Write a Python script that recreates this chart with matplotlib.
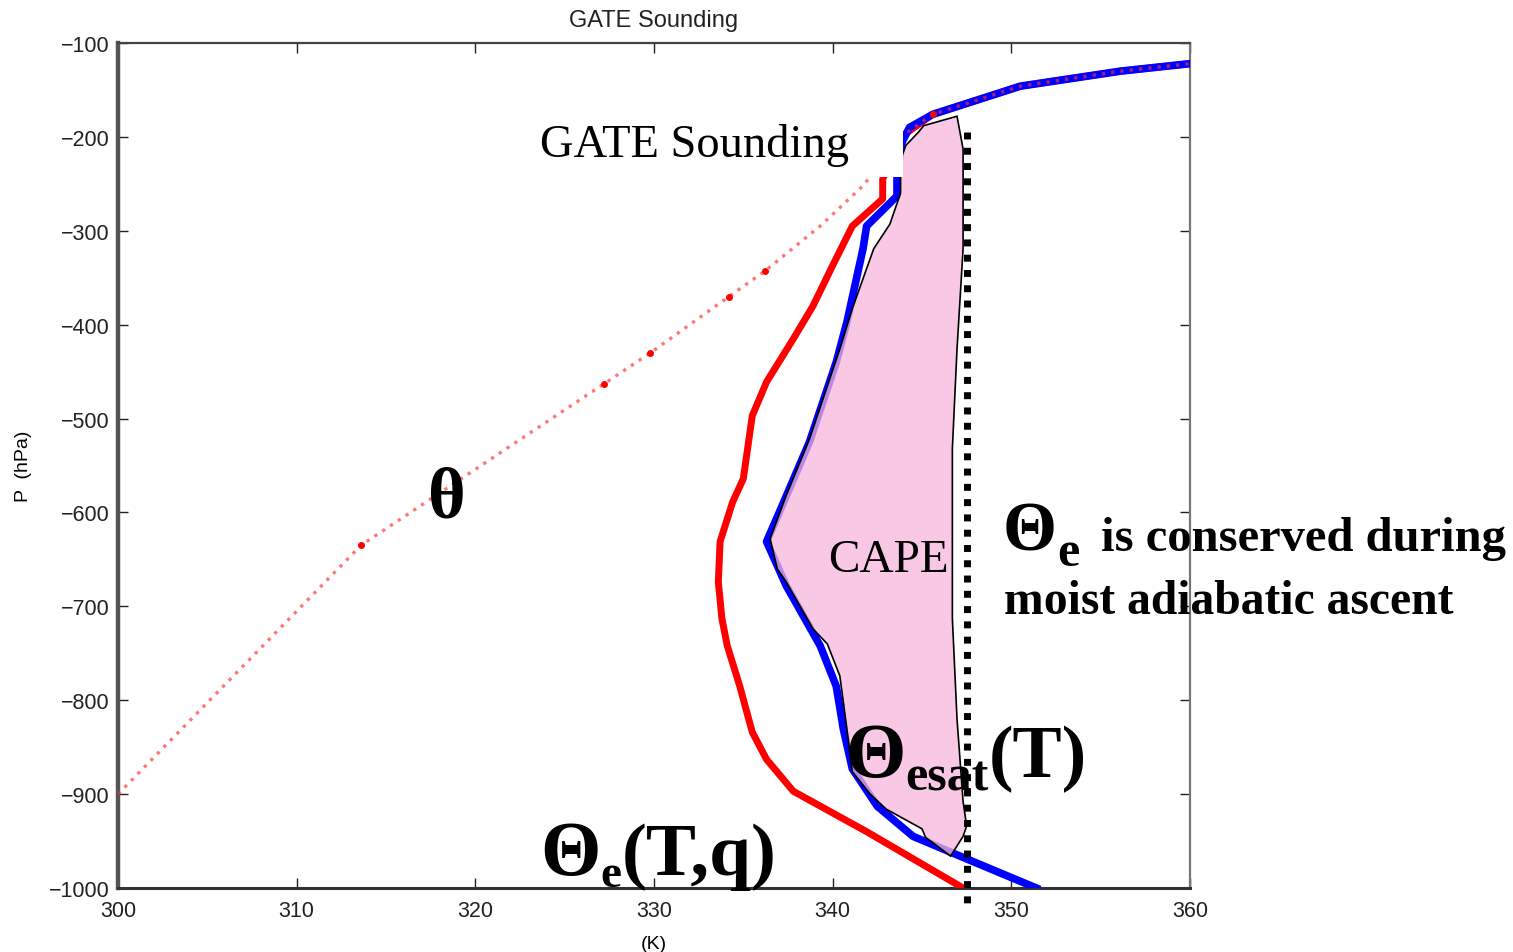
import matplotlib
matplotlib.use("Agg")
import matplotlib.pyplot as plt
from matplotlib.patches import Polygon, Rectangle
import numpy as np

# --- GATE sounding profiles (K vs. pressure plotted as negative hPa) ---
theta_K = [300.0, 313.6, 327.2, 329.8, 334.2, 336.2, 339.3, 341.7, 343.9,
           345.6, 350.5, 356.1, 360.0, 363.0]
theta_p = [-900, -635, -463, -430, -370, -343, -295, -252, -199,
           -176, -146, -130, -122, -117]
theta_marked = [1, 2, 3, 4, 5, 9]

thetae_K = [347.3, 341.9, 337.8, 336.3, 335.5, 334.8, 334.1, 333.8, 333.6,
            333.7, 334.4, 335.0, 335.5, 336.3, 337.8, 338.9, 340.0, 341.1,
            342.8, 342.8, 343.9, 345.6, 350.5, 356.1, 360.0, 363.0]
thetae_p = [-1000, -940, -897, -863, -834, -785, -742, -713, -674,
            -631, -589, -564, -497, -461, -415, -380, -337, -295,
            -266, -245, -199, -176, -146, -130, -122, -117]

thetaes_K = [351.4, 347.5, 344.5, 342.5, 341.1, 340.6, 340.2, 339.3, 337.4,
             336.3, 337.1, 338.7, 340.2, 340.8, 341.7, 341.9, 343.6, 343.6,
             343.9, 344.3, 345.6, 350.5, 356.1, 360.0, 363.0]
thetaes_p = [-1000, -969, -945, -913, -873, -831, -785, -742, -678,
             -631, -596, -525, -440, -397, -319, -295, -263, -237,
             -205, -190, -176, -146, -130, -122, -117]

# CAPE region: parcel side (right) then environment side (left)
cape_K = [346.96, 347.3, 347.3, 346.96, 346.7, 346.7, 346.7, 346.96, 347.3,
          347.5, 347.3, 346.6, 345.2, 345.0, 343.0, 342.1, 341.1, 340.8,
          340.4, 339.7, 338.9, 337.4, 336.9, 336.5, 337.4, 338.7, 340.4,
          341.1, 342.3, 343.2, 343.8, 343.8, 344.1, 344.8, 345.1]
cape_p = [-178, -213, -319, -426, -532, -639, -713, -820, -908,
          -934, -945, -966, -946, -937, -916, -900, -876, -831,
          -774, -740, -724, -674, -660, -628, -582, -522, -426,
          -383, -319, -293, -260, -224, -209, -195, -188]

parcel_thetae = 347.5
parcel_p = [-195, -1018]

W, H = 1513, 953
fig = plt.figure(figsize=(W / 100, H / 100), dpi=100)
ax = fig.add_axes([118 / W, 1 - 889 / H, (1190 - 118) / W, (889 - 44) / H])
ax.set_xlim(300, 360)
ax.set_ylim(-1000, -100)

ax.plot(thetae_K, thetae_p, color="#ff0000", lw=5, solid_joinstyle="round", zorder=3)
ax.plot(thetaes_K, thetaes_p, color="#0000ff", lw=5.5, solid_joinstyle="round", zorder=4)
ax.add_patch(Polygon(np.column_stack([cape_K, cape_p]), closed=True,
                     facecolor="#f8b6db", alpha=0.75, edgecolor="none", zorder=5))
ax.add_patch(Polygon(np.column_stack([cape_K, cape_p]), closed=True,
                     facecolor="none", edgecolor="black", lw=1.2, zorder=5.5))
ax.plot(theta_K, theta_p, color="#ff3030", lw=2.4, linestyle=(0, (1, 1.8)),
        alpha=0.65, zorder=6)
ax.plot(np.array(theta_K)[theta_marked], np.array(theta_p)[theta_marked], "o",
        color="#ff0000", ms=4, zorder=6)
ax.plot([parcel_thetae, parcel_thetae], parcel_p, color="black", lw=5,
        linestyle=(0, (1, 1.2)), dash_capstyle="butt", clip_on=False, zorder=7)

# axes styling
ax.set_xticks(np.arange(300, 361, 10))
ax.set_yticks(np.arange(-1000, -99, 100))
ax.tick_params(direction="in", length=7, width=1, top=True, right=True,
               labelsize=15.5, colors="#222222", pad=6)
ax.tick_params(axis="x", pad=9)
for lab in ax.get_xticklabels() + ax.get_yticklabels():
    lab.set_family("Liberation Sans")
ax.spines["left"].set_linewidth(3.2)
ax.spines["left"].set_color("#555555")
ax.spines["bottom"].set_linewidth(2.2)
ax.spines["bottom"].set_color("#333333")
ax.spines["top"].set_linewidth(1.6)
ax.spines["top"].set_color("#444444")
ax.spines["right"].set_linewidth(1.6)
ax.spines["right"].set_color("#777777")
ax.set_title("GATE Sounding", fontsize=17, family="Liberation Sans", pad=12,
             color="#222222")
ax.set_xlabel("(K)", fontsize=14, family="Liberation Sans", labelpad=10)
ax.set_ylabel("P  (hPa)", fontsize=14, family="Liberation Sans", labelpad=12)

# white label box over the upper part of the profiles
fig.add_artist(Rectangle((528 / W, 1 - 178 / H), (903 - 528) / W, (178 - 114) / H,
                         transform=fig.transFigure, facecolor="white",
                         edgecolor="none", zorder=2))
fig.text(540 / W, 1 - 157 / H, "GATE Sounding", fontsize=33.5,
         family="Liberation Serif", va="baseline", zorder=3)
fig.text(828 / W, 1 - 572 / H, "CAPE", fontsize=34,
         family="Liberation Serif", va="baseline", zorder=3)

renderer = fig.canvas.get_renderer()


def run(x_px, y_px, pieces):
    x = x_px
    for s, size, dy in pieces:
        t = fig.text(x / W, 1 - (y_px + dy) / H, s, fontsize=size,
                     fontweight="bold", family="Liberation Serif",
                     va="baseline", ha="left", zorder=8)
        x += t.get_window_extent(renderer).width


run(428, 517, [("\u03b8", 52, 0)])
run(540, 875, [("\u0398", 56, 0), ("e", 34, 12), ("(T,q)", 54, 0)])
run(845, 777, [("\u0398", 56, 0), ("esat", 36, 14), ("(T)", 53, 0)])
run(1003, 551, [("\u0398", 50, 0), ("e", 36, 15)])
fig.text(1101 / W, 1 - 551 / H, "is conserved during", fontsize=35,
         fontweight="bold", family="Liberation Serif", va="baseline", zorder=8)
fig.text(1004 / W, 1 - 614 / H, "moist adiabatic ascent", fontsize=34.3,
         fontweight="bold", family="Liberation Serif", va="baseline", zorder=8)

fig.savefig("out.png", dpi=100)
